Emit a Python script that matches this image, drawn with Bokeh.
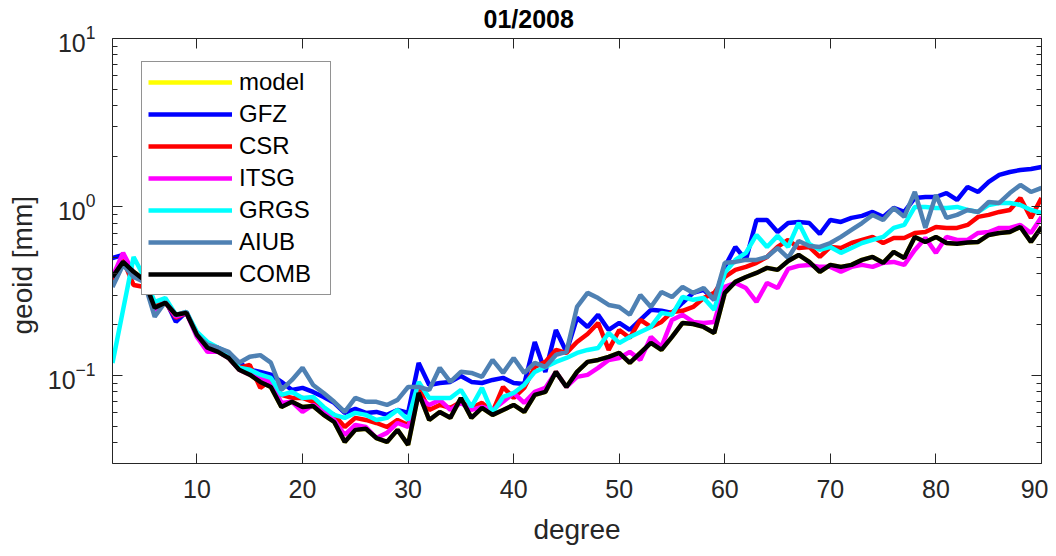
from bokeh.plotting import figure
from bokeh.models import (Range1d, FixedTicker, LogTickFormatter, LinearAxis, LogAxis,
                          Legend, LegendItem, CustomJSTickFormatter, Title)
from bokeh.embed import file_html
from bokeh.resources import INLINE

# ---------------- data ----------------
degree = list(range(2, 91))

comb = [0.384, 0.472, 0.412, 0.369, 0.252, 0.270, 0.229, 0.235, 0.174, 0.146,
        0.138, 0.127, 0.108, 0.101, 0.0915, 0.0854, 0.0650, 0.0697, 0.0650, 0.0659,
        0.0583, 0.0529, 0.0403, 0.0475, 0.0482, 0.0425, 0.0403, 0.0475, 0.0387, 0.0787,
        0.0544, 0.0607, 0.0560, 0.0735, 0.0560, 0.0641, 0.0583, 0.0624, 0.0668, 0.0607,
        0.0766, 0.0798, 0.1049, 0.0854, 0.1049, 0.1203, 0.1236, 0.1287, 0.1360, 0.1186,
        0.1360, 0.1559, 0.1417, 0.1692, 0.2049, 0.202, 0.1940, 0.1787, 0.309, 0.359,
        0.384, 0.406, 0.435, 0.423, 0.478, 0.519, 0.472, 0.412, 0.453, 0.441,
        0.453, 0.485, 0.505, 0.466, 0.541, 0.498, 0.664, 0.620, 0.664, 0.611,
        0.605, 0.615, 0.620, 0.682, 0.701, 0.710, 0.761, 0.620, 0.761]

gfz = [0.498, 0.519, 0.395, 0.359, 0.245, 0.281, 0.208, 0.238, 0.174, 0.152,
       0.146, 0.136, 0.119, 0.108, 0.105, 0.101, 0.0915, 0.0820, 0.0843, 0.0798,
       0.0745, 0.0687, 0.0599, 0.0633, 0.0599, 0.0607, 0.0583, 0.0624, 0.0599, 0.1186,
       0.0878, 0.0902, 0.0915, 0.0993, 0.0915, 0.0902, 0.0940, 0.0967, 0.0902, 0.0890,
       0.158, 0.1049, 0.1862, 0.1379, 0.2198, 0.1940, 0.229, 0.1862, 0.2049, 0.1862,
       0.2135, 0.245, 0.242, 0.235, 0.270, 0.309, 0.322, 0.281, 0.441, 0.579,
       0.485, 0.837, 0.837, 0.710, 0.803, 0.815, 0.803, 0.691, 0.837, 0.815,
       0.861, 0.885, 0.934, 0.873, 0.987, 0.934, 1.131, 1.146, 1.146, 1.210,
       1.100, 1.315, 1.227, 1.407, 1.549, 1.613, 1.658, 1.681, 1.728]

csr = [0.369, 0.485, 0.344, 0.335, 0.270, 0.273, 0.220, 0.235, 0.174, 0.148,
       0.1417, 0.1305, 0.1108, 0.1154, 0.0843, 0.0940, 0.0766, 0.0735, 0.0735, 0.0697,
       0.0624, 0.0583, 0.0494, 0.0560, 0.0544, 0.0522, 0.0494, 0.0544, 0.0508, 0.0843,
       0.0624, 0.0668, 0.0641, 0.0697, 0.0641, 0.0687, 0.0607, 0.0854, 0.0735, 0.0843,
       0.1123, 0.1203, 0.1417, 0.1360, 0.158, 0.1763, 0.2049, 0.1417, 0.1862, 0.1669,
       0.2135, 0.1940, 0.2077, 0.238, 0.242, 0.255, 0.288, 0.309, 0.384, 0.423,
       0.441, 0.466, 0.505, 0.579, 0.637, 0.571, 0.579, 0.505, 0.579, 0.571,
       0.611, 0.637, 0.664, 0.611, 0.655, 0.655, 0.701, 0.710, 0.761, 0.751,
       0.751, 0.782, 0.873, 0.897, 0.934, 0.960, 1.131, 0.861, 1.131]

itsg = [0.384, 0.534, 0.406, 0.369, 0.245, 0.273, 0.223, 0.235, 0.169, 0.138,
        0.138, 0.127, 0.108, 0.101, 0.0967, 0.0915, 0.0687, 0.0697, 0.0607, 0.0668,
        0.0607, 0.0544, 0.0443, 0.0508, 0.0494, 0.0425, 0.0456, 0.0522, 0.0494, 0.0745,
        0.0668, 0.0716, 0.0624, 0.0687, 0.0624, 0.0650, 0.0624, 0.0697, 0.0787, 0.0687,
        0.0798, 0.0843, 0.1049, 0.0854, 0.0980, 0.1007, 0.1108, 0.1236, 0.127, 0.1379,
        0.1236, 0.1692, 0.1476, 0.2135, 0.229, 0.2077, 0.2049, 0.2077, 0.335, 0.354,
        0.330, 0.273, 0.354, 0.330, 0.429, 0.447, 0.453, 0.441, 0.441, 0.412,
        0.441, 0.453, 0.441, 0.466, 0.472, 0.453, 0.556, 0.655, 0.534, 0.664,
        0.637, 0.637, 0.701, 0.710, 0.751, 0.751, 0.782, 0.701, 0.873]

grgs = [0.1186, 0.245, 0.505, 0.384, 0.273, 0.288, 0.229, 0.238, 0.181, 0.158,
        0.146, 0.136, 0.111, 0.108, 0.101, 0.0967, 0.0766, 0.0798, 0.0735, 0.0745,
        0.0650, 0.0583, 0.0560, 0.0599, 0.0583, 0.0544, 0.0560, 0.0624, 0.0544, 0.0915,
        0.0735, 0.0735, 0.0735, 0.0820, 0.0650, 0.0843, 0.0599, 0.0745, 0.0787, 0.0878,
        0.1049, 0.1123, 0.1203, 0.127, 0.136, 0.1417, 0.1456, 0.1787, 0.1559, 0.1692,
        0.1812, 0.1940, 0.235, 0.229, 0.292, 0.281, 0.288, 0.245, 0.406, 0.485,
        0.534, 0.682, 0.579, 0.673, 0.579, 0.803, 0.603, 0.556, 0.579, 0.534,
        0.571, 0.611, 0.637, 0.664, 0.751, 0.782, 1.0, 1.0, 0.986, 0.986,
        1.0, 0.960, 0.934, 1.028, 1.056, 1.056, 1.028, 0.960, 0.921]

aiub = [0.335, 0.453, 0.384, 0.359, 0.223, 0.273, 0.229, 0.238, 0.174, 0.152,
        0.146, 0.138, 0.119, 0.129, 0.132, 0.119, 0.0820, 0.0940, 0.111, 0.0878,
        0.0787, 0.0697, 0.0607, 0.0735, 0.0697, 0.0697, 0.0668, 0.0716, 0.0854, 0.0854,
        0.0820, 0.111, 0.0915, 0.105, 0.1035, 0.0980, 0.1236, 0.1035, 0.127, 0.1035,
        0.1186, 0.1123, 0.1323, 0.1379, 0.255, 0.309, 0.288, 0.262, 0.255, 0.229,
        0.300, 0.255, 0.313, 0.292, 0.335, 0.309, 0.330, 0.281, 0.466, 0.472,
        0.485, 0.485, 0.505, 0.571, 0.498, 0.628, 0.587, 0.579, 0.611, 0.664,
        0.730, 0.803, 0.897, 0.837, 0.986, 0.873, 1.227, 0.751, 1.178, 0.861,
        0.897, 0.960, 0.934, 1.070, 1.056, 1.210, 1.351, 1.227, 1.297]

# the model curve is not visible in the picture: it lies under the COMB curve
model = list(comb)

series_names = ["model", "GFZ", "CSR", "ITSG", "GRGS", "AIUB", "COMB"]
series_values = [model, gfz, csr, itsg, grgs, aiub, comb]
series_colors = ["#FFFF00", "#0000FF", "#FF0000", "#FF00FF", "#00FFFF", "#4F81B3", "#000000"]

x_ticks = [10, 20, 30, 40, 50, 60, 70, 80, 90]
y_ticks = [0.1, 1, 10]
y_minor = [0.03, 0.04, 0.05, 0.06, 0.07, 0.08, 0.09,
           0.2, 0.3, 0.4, 0.5, 0.6, 0.7, 0.8, 0.9,
           2, 3, 4, 5, 6, 7, 8, 9]

title_text = "01/2008"
x_label = "degree"
y_label = "geoid [mm]"

# ---------------- figure ----------------
FONT = "Liberation Sans"
AX = "#262626"

p = figure(width=1048, height=556, x_range=Range1d(2, 90), y_range=Range1d(0.03, 10),
           y_axis_type="log", output_backend="svg", toolbar_location=None,
           min_border_left=112, min_border_right=7, min_border_top=38, min_border_bottom=93)
p.outline_line_color = None
p.xgrid.visible = False
p.ygrid.visible = False
p.background_fill_color = "white"

p.title.text = title_text
p.title.align = "left"
p.title.offset = 371
p.title.vertical_align = "top"
p.title.standoff = 7
p.title.text_font = FONT
p.title.text_font_size = "25px"
p.title.text_font_style = "bold"
p.title.text_color = "#000000"

def style_axis(ax):
    ax.axis_line_color = AX
    ax.axis_line_width = 1
    ax.major_tick_line_color = AX
    ax.minor_tick_line_color = AX
    ax.major_tick_in = 10
    ax.major_tick_out = 0
    ax.minor_tick_in = 5
    ax.minor_tick_out = 0
    ax.major_label_text_font = FONT
    ax.major_label_text_font_size = "25px"
    ax.major_label_text_color = AX

xa = p.xaxis[0]
style_axis(xa)
xa.ticker = FixedTicker(ticks=x_ticks, minor_ticks=[])
xa.major_label_standoff = 16

ya = p.yaxis[0]
style_axis(ya)
ya.ticker = FixedTicker(ticks=y_ticks, minor_ticks=y_minor)
ya.formatter = LogTickFormatter()
ya.major_label_standoff = 17

blank = CustomJSTickFormatter(code="return ''")

top = LinearAxis(ticker=FixedTicker(ticks=x_ticks, minor_ticks=[]), formatter=blank)
style_axis(top)
top.major_label_standoff = 0
top.major_label_text_font_size = "1px"
p.add_layout(top, "above")

right = LogAxis(ticker=FixedTicker(ticks=y_ticks, minor_ticks=y_minor), formatter=blank)
style_axis(right)
right.major_label_standoff = 0
right.major_label_text_font_size = "1px"
p.add_layout(right, "right")

xtitle = Title(text=x_label, align="center", vertical_align="bottom", standoff=22,
               text_font=FONT, text_font_size="28px", text_font_style="normal", text_color=AX)
p.add_layout(xtitle, "below")

ytitle = Title(text=y_label, align="left", offset=129, vertical_align="top", standoff=9,
               text_font=FONT, text_font_size="28px", text_font_style="normal", text_color=AX)
p.add_layout(ytitle, "left")

items = []
for name, vals, col in zip(series_names, series_values, series_colors):
    r = p.line(degree, vals, line_color=col, line_width=4.5)
    items.append(LegendItem(label=name, renderers=[r]))

legend = Legend(items=items, location=(29, 168), margin=0, padding=6,
                glyph_width=84, glyph_height=26, label_height=26, label_width=85,
                label_standoff=7, spacing=4,
                label_text_font=FONT, label_text_font_size="24px", label_text_color="#000000",
                border_line_color=AX, border_line_width=1,
                background_fill_color="white", background_fill_alpha=1.0)
p.add_layout(legend)

open("out.html", "w").write(file_html(p, INLINE))
